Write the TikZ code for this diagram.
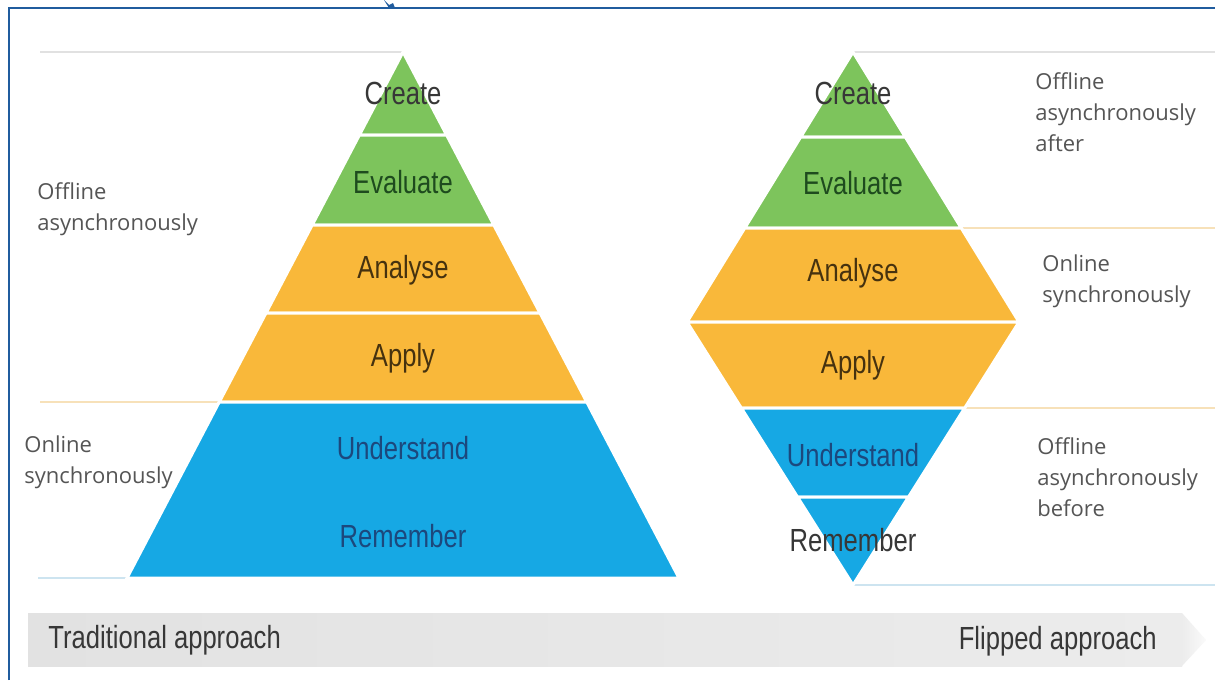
\documentclass[tikz,border=0pt]{standalone}
\usepackage{fontspec}
\newfontfamily\lvlfont[FakeStretch=0.8]{Liberation Sans}
\newfontfamily\sidefont{Open Sans}
\definecolor{grn}{RGB}{125,196,92}
\definecolor{org}{RGB}{249,184,58}
\definecolor{blu}{RGB}{22,168,228}
\definecolor{framec}{RGB}{32,92,158}
\definecolor{sidegray}{RGB}{85,85,85}
\definecolor{txtgray}{RGB}{55,55,55}
\definecolor{txtgreen}{RGB}{30,75,30}
\definecolor{txtbrown}{RGB}{70,50,15}
\definecolor{txtblue}{RGB}{28,72,125}
\definecolor{linegray}{RGB}{225,225,225}
\definecolor{lineorg}{RGB}{247,225,185}
\definecolor{lineblu}{RGB}{205,228,240}
\definecolor{barl}{RGB}{226,226,226}
\definecolor{barr}{RGB}{236,236,236}
\begin{document}
\begin{tikzpicture}[x=0.5pt,y=-0.5pt,
  layer/.style={draw=white,line width=1.5pt,line join=miter},
  lvl/.style={font=\lvlfont\fontsize{16}{18}\selectfont,inner sep=0pt},
  side/.style={font=\sidefont\fontsize{11}{15.5}\selectfont,text=sidegray,align=left,anchor=west,inner sep=0pt},
  guide/.style={line width=0.8pt}]
\useasboundingbox (0,0) rectangle (1215,680);
\fill[white] (0,0) rectangle (1215,680);
% frame
\draw[framec,line width=1.2pt] (9,680) -- (9,8) -- (1215,8);
\fill[framec] (384,0) -- (389,8) -- (395,8) -- (393,3) -- (389,5) -- cycle;
% guide lines
\draw[guide,linegray] (40,52) -- (403,52);
\draw[guide,lineorg] (40,402) -- (219,402);
\draw[guide,lineblu] (38,578) -- (127,578);
\draw[guide,linegray] (853,52) -- (1215,52);
\draw[guide,lineorg] (961,228) -- (1215,228);
\draw[guide,lineorg] (965,408) -- (1215,408);
\draw[guide,lineblu] (853,585) -- (1215,585);
% left pyramid
\path[layer,fill=grn] (403,52) -- (446.6,135) -- (359.4,135) -- cycle;
\path[layer,fill=grn] (359.4,135) -- (446.6,135) -- (493.8,225) -- (312.2,225) -- cycle;
\path[layer,fill=org] (312.2,225) -- (493.8,225) -- (540,313) -- (266,313) -- cycle;
\path[layer,fill=org] (266,313) -- (540,313) -- (586.75,402) -- (219.25,402) -- cycle;
\path[layer,fill=blu] (219.25,402) -- (586.75,402) -- (679,578) -- (127,578) -- cycle;
% right diamond
\path[layer,fill=grn] (853,52) -- (905.3,137) -- (800.7,137) -- cycle;
\path[layer,fill=grn] (800.7,137) -- (905.3,137) -- (961.2,228) -- (744.8,228) -- cycle;
\path[layer,fill=org] (744.8,228) -- (961.2,228) -- (1019,322) -- (687,322) -- cycle;
\path[layer,fill=org] (687,322) -- (1019,322) -- (964.7,408) -- (741.3,408) -- cycle;
\path[layer,fill=blu] (741.3,408) -- (964.7,408) -- (908.5,497) -- (797.5,497) -- cycle;
\path[layer,fill=blu] (797.5,497) -- (908.5,497) -- (853,585) -- cycle;
% left level texts
\node[lvl,text=txtgray] (lcreate) at (403,93) {Create};
\node[lvl,text=txtgreen] (leval) at (403,182) {Evaluate};
\node[lvl,text=txtbrown] (lanal) at (403,270) {Analyse};
\node[lvl,text=txtbrown] (lapply) at (403,358) {Apply};
\node[lvl,text=txtblue] (lund) at (403,448) {Understand};
\node[lvl,text=txtblue] (lrem) at (403,536) {Remember};
% right level texts
\node[lvl,text=txtgray] (rcreate) at (853,93) {Create};
\node[lvl,text=txtgreen] (reval) at (853,183) {Evaluate};
\node[lvl,text=txtbrown] (ranal) at (853,273) {Analyse};
\node[lvl,text=txtbrown] (rapply) at (853,365) {Apply};
\node[lvl,text=txtblue] (rund) at (853,455) {Understand};
\node[lvl,text=txtgray] (rrem) at (853,540) {Remember};
% side labels
\node[side] (loff) at (37,209) {Offline\\asynchronously};
\node[side] (lon) at (24,462) {Online\\synchronously};
\node[side] (roff) at (1035,112) {Offline\\asynchronously\\after};
\node[side] (ron) at (1042,281) {Online\\synchronously};
\node[side] (rbef) at (1037,477) {Offline\\asynchronously\\before};
% bottom bar
\shade[left color=barl,right color=barr] (28,613) -- (1182,613) -- (1182,666) -- (28,666) -- cycle;
\shade[left color=barr,right color=white!96!gray] (1182,613) -- (1206,640) -- (1182,666) -- cycle;
\node[lvl,text=txtgray,anchor=west] (trad) at (48,640) {Traditional approach};
\node[lvl,text=txtgray,anchor=east] (flip) at (1157,641) {Flipped approach};
\end{tikzpicture}
\end{document}
